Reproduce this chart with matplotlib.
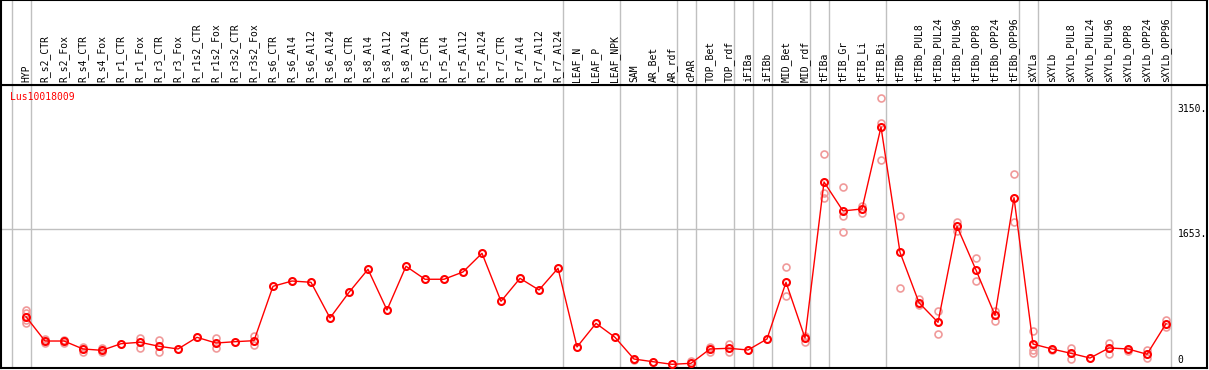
import matplotlib
matplotlib.use("Agg")
import matplotlib.pyplot as plt

gene = "Lus10018009"

samples = ["HYP", "R_s2_CTR", "R_s2_Fox", "R_s4_CTR", "R_s4_Fox", "R_r1_CTR", "R_r1_Fox",
           "R_r3_CTR", "R_r3_Fox", "R_r1s2_CTR", "R_r1s2_Fox", "R_r3s2_CTR", "R_r3s2_Fox",
           "R_s6_CTR", "R_s6_Al4", "R_s6_Al12", "R_s6_Al24", "R_s8_CTR", "R_s8_Al4",
           "R_s8_Al12", "R_s8_Al24", "R_r5_CTR", "R_r5_Al4", "R_r5_Al12", "R_r5_Al24",
           "R_r7_CTR", "R_r7_Al4", "R_r7_Al12", "R_r7_Al24", "LEAF_N", "LEAF_P", "LEAF_NPK",
           "SAM", "AR_Bet", "AR_rdf", "cPAR", "TOP_Bet", "TOP_rdf", "iFIBa", "iFIBb",
           "MID_Bet", "MID_rdf", "tFIBa", "tFIB_Gr", "tFIB_Li", "tFIB_Bi", "tFIBb",
           "tFIBb_PUL8", "tFIBb_PUL24", "tFIBb_PUL96", "tFIBb_OPP8", "tFIBb_OPP24",
           "tFIBb_OPP96", "sXYLa", "sXYLb", "sXYLb_PUL8", "sXYLb_PUL24", "sXYLb_PUL96",
           "sXYLb_OPP8", "sXYLb_OPP24", "sXYLb_OPP96"]

# mean expression per sample
means = [606, 316, 316, 221, 205, 284, 301, 253, 221, 360, 292, 308, 320,
         969, 1032, 1017, 591, 897, 1172, 686, 1208, 1053, 1053, 1140, 1363,
         790, 1064, 925, 1184, 245, 527, 360,
         101, 69, 38, 50, 221, 229, 209, 340, 1017, 352,
         2214, 1868, 1892, 2870, 1375, 773, 539, 1685, 1163, 623, 2026,
         280, 221, 169, 113, 233, 221, 158, 523]

# single replicates (light circles)
reps = [[686, 650, 567, 535], [340, 292], [334, 292], [245, 185], [236, 185], [], [352, 236],
        [328, 181], [], [], [348, 236], [], [379, 265],
        [], [], [], [], [], [], [], [], [], [], [], [],
        [], [], [], [], [], [], [],
        [89], [], [], [81], [248, 189], [277, 189], [], [], [1196, 850], [376, 308],
        [2548, 2079, 2019], [2150, 1808, 1613], [1927, 1847], [3212, 2914, 2476],
        [1808, 945], [817, 746], [678, 396], [1740, 1632], [1303, 1032], [678, 558],
        [2309, 1740],
        [436, 209, 177], [209], [236, 98], [], [296, 158], [200], [209, 110], [567, 480]]

# group separators (after sample index)
group_ends = [-1, 0, 28, 31, 34, 35, 37, 38, 39, 41, 42, 45, 52, 53, 60]

ytick_vals = [0, 1653, 3150]
ytick_labels = ["0", "1653.", "3150."]

W, H = 1209, 370
fig = plt.figure(figsize=(W / 100, H / 100), dpi=100)


def rect(x0, y0, x1, y1):
    return [x0 / W, 1 - y1 / H, (x1 - x0) / W, (y1 - y0) / H]


ax = fig.add_axes(rect(1, 85, 1207, 368))
hx = fig.add_axes(rect(1, 0, 1207, 85))

xlim = ((1 - 26) / 19, (1207 - 26) / 19)
pxv = 0.0838
ax.set_xlim(xlim)
ax.set_ylim((367.5 - 368) / pxv, (367.5 - 85) / pxv)
hx.set_xlim(xlim)
hx.set_ylim(0, 1)

for a in (ax, hx):
    a.set_xticks([])
    a.set_yticks([])
    for s in a.spines.values():
        s.set_color("black")
        s.set_linewidth(1.5)
    for g in group_ends:
        a.axvline(g + 0.25, color="#c0c0c0", lw=1, zorder=0)

ax.hlines(1653, xlim[0], 60.25, color="#c0c0c0", lw=1, zorder=0)

mono = "DejaVu Sans Mono"
fs = 7
x = list(range(len(samples)))
for i, name in enumerate(samples):
    hx.text(i, 0.03, name, rotation=90, ha="center", va="bottom",
            family=mono, fontsize=fs)

for i, r in enumerate(reps):
    if r:
        ax.plot([i] * len(r), r, "o", ms=5, mfc="none", mec="#f09a9a", mew=1.2,
                ls="none", zorder=2)

ax.plot(x, means, "-", color="red", lw=1, zorder=3)
ax.plot(x, means, "o", ms=5, mfc="none", mec="red", mew=1.5, ls="none", zorder=4)

for v, lab in zip(ytick_vals, ytick_labels):
    if v == 0:
        ax.text(60.6, v + 25, lab, ha="left", va="bottom", family=mono, fontsize=fs)
    else:
        ax.text(60.6, v, lab, ha="left", va="top", family=mono, fontsize=fs)

ax.text(9 / 1206, 1 - 12 / 283, gene, transform=ax.transAxes, color="red",
        ha="left", va="center", family=mono, fontsize=fs)

fig.savefig("out.png", dpi=100)
